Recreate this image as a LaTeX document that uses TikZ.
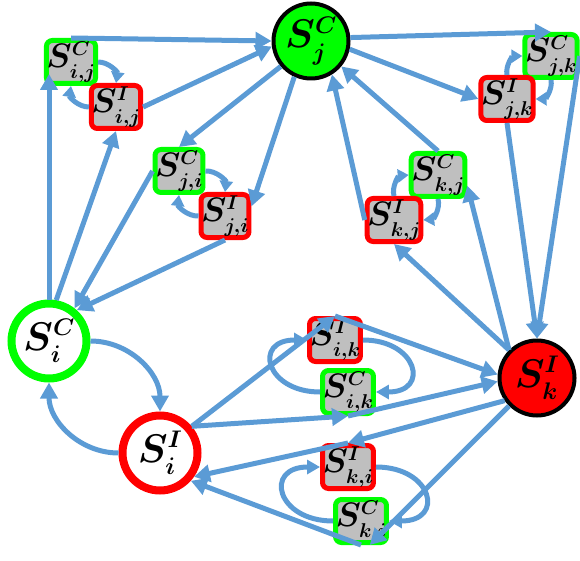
\RequirePackage{fix-cm}
\documentclass[tikz,border=0pt]{standalone}
\usetikzlibrary{arrows.meta}
\definecolor{FlowBlue}{RGB}{91,155,213}
\definecolor{CohGreen}{RGB}{0,255,0}
\definecolor{IncRed}{RGB}{255,0,0}
\definecolor{BoxGray}{RGB}{191,191,191}
\DeclareMathSizes{34}{34}{20}{15}
\DeclareMathSizes{40}{40}{24}{17}
\tikzset{
  flow/.style={-{Triangle[length=16pt,width=17pt]},line width=5pt,draw=FlowBlue},
  loopflow/.style={-{Triangle[length=13pt,width=14pt]},line width=5pt,draw=FlowBlue},
  pairflow/.style={-{Triangle[length=11pt,width=13pt]},line width=5pt,draw=FlowBlue,bend left=50},
  bigstate/.style={circle,minimum size=75pt,inner sep=0pt,
    font=\fontsize{40}{44}\selectfont\boldmath},
  cstate/.style={bigstate,draw=CohGreen,fill=white,line width=8pt},
  istate/.style={bigstate,draw=IncRed,fill=white,line width=8pt},
  cfull/.style={bigstate,draw=black,fill=CohGreen,line width=4pt},
  ifull/.style={bigstate,draw=black,fill=IncRed,line width=4pt},
  pairbox/.style={rectangle,rounded corners=6pt,minimum size=43pt,inner sep=0pt,
    fill=BoxGray,line width=5pt,font=\fontsize{34}{36}\selectfont\boldmath},
  greenbox/.style={pairbox,draw=CohGreen},
  redbox/.style={pairbox,draw=IncRed}
}
\begin{document}
\begin{tikzpicture}[x=1pt,y=1pt]
  \useasboundingbox (0,0) rectangle (580,-561);
  \node[cfull] (sjC) at (311,-41) {$S^{C}_{j}$};
  \node[cstate] (siC) at (49,-341) {$S^{C}_{i}$};
  \node[istate] (siI) at (160,-453) {$S^{I}_{i}$};
  \node[ifull] (skI) at (537,-378) {$S^{I}_{k}$};
  \node[greenbox] (sijC) at (71,-62) {$S^{C}_{i,j}$};
  \node[redbox] (sijI) at (116,-107) {$S^{I}_{i,j}$};
  \node[greenbox] (sjiC) at (179,-171) {$S^{C}_{j,i}$};
  \node[redbox] (sjiI) at (225,-216) {$S^{I}_{j,i}$};
  \node[greenbox] (sjkC) at (551,-56) {$S^{C}_{j,k}$};
  \node[redbox] (sjkI) at (507,-99) {$S^{I}_{j,k}$};
  \node[greenbox] (skjC) at (438,-175) {$S^{C}_{k,j}$};
  \node[redbox] (skjI) at (394,-220) {$S^{I}_{k,j}$};
  \node[redbox] (sikI) at (335,-340) {$S^{I}_{i,k}$};
  \node[greenbox] (sikC) at (348,-392) {$S^{C}_{i,k}$};
  \node[redbox] (skiI) at (348,-467) {$S^{I}_{k,i}$};
  \node[greenbox] (skiC) at (361,-521) {$S^{C}_{k,i}$};

  \draw[flow,shorten >=12pt] (siC.north) -- (siC.north |- sijC.west);
  \draw[flow] (sijC.north) -- (sjC.west);
  \draw[flow] (siC.80) -- (sijI.south);
  \draw[flow] (sijI.east) -- (sjC.188);
  \draw[pairflow] (sijC.east) to (sijI.north);
  \draw[pairflow] (sijI.west) to (sijC.south);

  \draw[flow] (sjC.220) -- (sjiC.north);
  \draw[flow] (sjC.245) -- (sjiI.20);
  \draw[flow] (sjiC.west) -- (siC.52);
  \draw[flow] (sjiI.south) -- (siC.48);
  \draw[pairflow] (sjiC.east) to (sjiI.north);
  \draw[pairflow] (sjiI.west) to (sjiC.south);

  \draw[flow] (sjC.5) -- (sjkC.north);
  \draw[flow] (sjC.-12) -- (sjkI.west);
  \draw[flow] (sjkI.south) -- (skI.north);
  \draw[flow] (sjkC.east) -- (skI.north);
  \draw[pairflow] (sjkI.north) to (sjkC.west);
  \draw[pairflow] (sjkC.south) to (sjkI.east);

  \draw[flow] (skjC.north) -- (sjC.-40);
  \draw[flow] (skjI.west) -- (sjC.-58);
  \draw[flow] (skI.135) -- (skjC.-20);
  \draw[flow] (skI.135) -- (skjI.south);
  \draw[pairflow] (skjI.north) to (skjC.west);
  \draw[pairflow] (skjC.south) to (skjI.east);

  \draw[flow] (siI.40) -- (sikI.north);
  \draw[flow] (siI.40) -- (sikC.south);
  \draw[flow] (sikI.north) -- (skI.175);
  \draw[flow] (sikC.south) -- (skI.185);
  \draw[loopflow] (sikI.east) to[out=0,in=0,looseness=2.6] (sikC.east);
  \draw[loopflow] (sikC.west) to[out=180,in=180,looseness=2.6] (sikI.west);

  \draw[flow] (skI.215) -- (skiI.north);
  \draw[flow] (skI.225) -- (skiC.-70);
  \draw[flow] (skiI.north) -- (siI.-35);
  \draw[flow] (skiC.south) -- (siI.-42);
  \draw[loopflow] (skiI.east) to[out=0,in=0,looseness=2.6] (skiC.east);
  \draw[loopflow] (skiC.west) to[out=180,in=180,looseness=2.6] (skiI.west);

  \draw[flow] (siC.east) to[out=0,in=90] (siI.north);
  \draw[flow] (siI.west) to[out=180,in=-90] (siC.south);
\end{tikzpicture}
\end{document}
